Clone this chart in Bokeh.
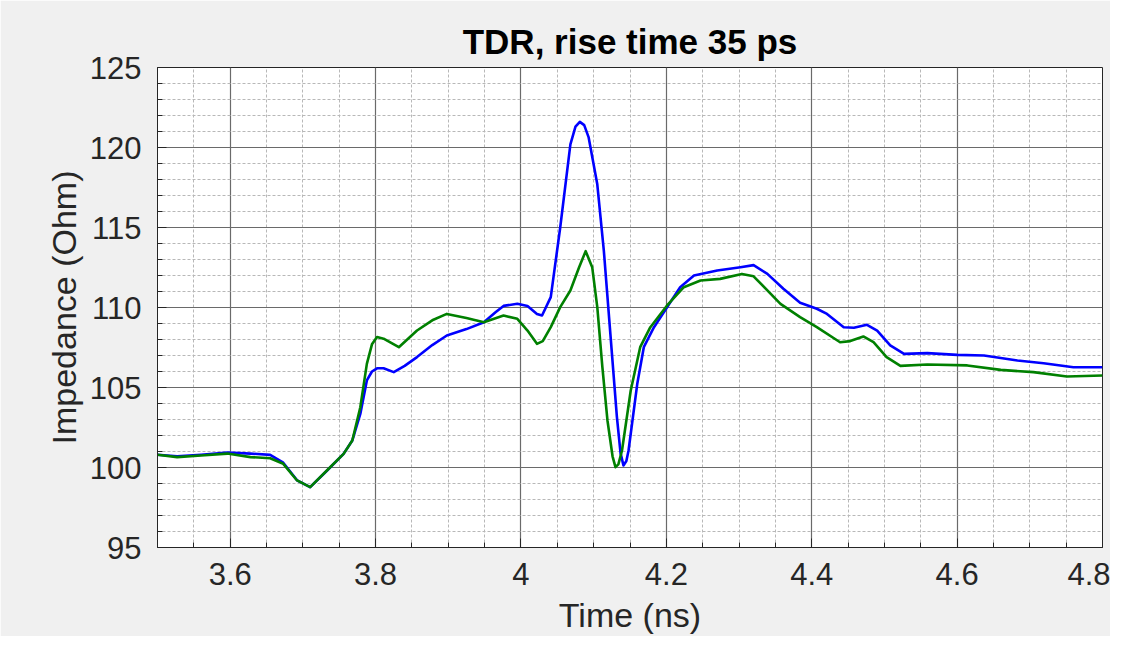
from bokeh.plotting import figure
from bokeh.embed import file_html
from bokeh.resources import INLINE
from bokeh.models import FixedTicker, CustomJSTickFormatter, Range1d

# ---- data ----
t_blue = [3.500, 3.527, 3.560, 3.596, 3.628, 3.655, 3.673, 3.692, 3.710, 3.733,
          3.756, 3.768, 3.779, 3.788, 3.795, 3.802, 3.811, 3.825, 3.840, 3.857, 3.878,
          3.898, 3.925, 3.949, 3.965, 3.976, 3.995, 4.009, 4.022, 4.029, 4.041, 4.054,
          4.068, 4.075, 4.081, 4.087, 4.093, 4.105, 4.114, 4.123, 4.132, 4.137, 4.141,
          4.145, 4.148, 4.160, 4.169, 4.183, 4.201, 4.219, 4.238, 4.270, 4.302, 4.320,
          4.339, 4.361, 4.384, 4.407, 4.421, 4.444, 4.458, 4.476, 4.490, 4.508, 4.527,
          4.559, 4.600, 4.637, 4.683, 4.719, 4.760, 4.800]
z_blue = [100.80, 100.70, 100.80, 100.94, 100.87, 100.79, 100.30, 99.20, 98.77, 99.80,
          100.85, 101.69, 103.35, 105.44, 106.00, 106.20, 106.20, 105.96, 106.35, 106.90, 107.65,
          108.25, 108.65, 109.08, 109.70, 110.10, 110.23, 110.10, 109.60, 109.50, 110.65, 115.00,
          120.20, 121.30, 121.60, 121.40, 120.65, 117.70, 113.56, 108.35, 103.15, 100.90, 100.13,
          100.40, 101.06, 105.23, 107.52, 108.77, 110.02, 111.27, 112.00, 112.31, 112.52, 112.65,
          112.10, 111.17, 110.30, 109.92, 109.60, 108.77, 108.73, 108.92, 108.56, 107.63, 107.10,
          107.15, 107.04, 107.00, 106.69, 106.52, 106.27, 106.27]

t_green = [3.500, 3.527, 3.560, 3.596, 3.628, 3.655, 3.673, 3.692, 3.710, 3.733,
           3.756, 3.768, 3.779, 3.788, 3.795, 3.802, 3.811, 3.832, 3.857, 3.878, 3.898,
           3.925, 3.949, 3.976, 3.995, 4.009, 4.022, 4.030, 4.041, 4.054, 4.068, 4.080,
           4.089, 4.098, 4.105, 4.112, 4.119, 4.126, 4.130, 4.134, 4.139, 4.151, 4.164,
           4.178, 4.201, 4.224, 4.247, 4.274, 4.304, 4.320, 4.357, 4.384, 4.407, 4.439,
           4.453, 4.471, 4.485, 4.503, 4.522, 4.559, 4.614, 4.660, 4.705, 4.751, 4.800]
z_green = [100.80, 100.65, 100.75, 100.87, 100.65, 100.58, 100.23, 99.19, 98.77, 99.81,
           100.85, 101.69, 103.77, 106.48, 107.70, 108.15, 108.05, 107.52, 108.56, 109.20, 109.60,
           109.35, 109.08, 109.50, 109.29, 108.56, 107.73, 107.90, 108.77, 110.02, 111.06, 112.52,
           113.52, 112.52, 110.02, 106.27, 102.94, 100.70, 100.02, 100.20, 101.06, 104.81, 107.52,
           108.77, 110.13, 111.27, 111.69, 111.79, 112.10, 111.95, 110.23, 109.40, 108.77, 107.83,
           107.90, 108.19, 107.83, 106.90, 106.35, 106.44, 106.38, 106.10, 105.96, 105.69, 105.75]

x_major_ticks = [3.6, 3.8, 4.0, 4.2, 4.4, 4.6, 4.8]
x_minor_ticks = [3.55, 3.65, 3.7, 3.75, 3.85, 3.9, 3.95, 4.05, 4.1, 4.15, 4.25, 4.3,
                 4.35, 4.45, 4.5, 4.55, 4.65, 4.7, 4.75]
y_major_ticks = [95, 100, 105, 110, 115, 120, 125]
y_minor_ticks = [96, 97, 98, 99, 101, 102, 103, 104, 106, 107, 108, 109, 111, 112,
                 113, 114, 116, 117, 118, 119, 121, 122, 123, 124]

title_text = "TDR, rise time 35 ps"
x_label = "Time (ns)"
y_label = "Impedance (Ohm)"

FONT = "Liberation Sans"
BG = "#f0f0f0"
AX = "#262626"

p = figure(width=1110, height=636, output_backend="svg", toolbar_location=None,
           x_range=Range1d(3.5, 4.8), y_range=Range1d(95, 125),
           min_border_left=157, min_border_right=8, min_border_top=67,
           min_border_bottom=89, background_fill_color="white",
           border_fill_color=BG, title=title_text)

p.title.text_font = FONT
p.title.text_font_size = "35px"
p.title.text_font_style = "bold"
p.title.text_color = "black"
p.title.align = "center"
p.title.standoff = 13

p.outline_line_color = AX
p.outline_line_width = 1

for ax, maj, mnr in ((p.xaxis[0], x_major_ticks, x_minor_ticks),
                     (p.yaxis[0], y_major_ticks, y_minor_ticks)):
    ax.ticker = FixedTicker(ticks=maj, minor_ticks=mnr)
    ax.axis_line_color = AX
    ax.major_tick_line_color = AX
    ax.minor_tick_line_color = AX
    ax.major_tick_in = 9
    ax.major_tick_out = 0
    ax.minor_tick_in = 5
    ax.minor_tick_out = 0
    ax.major_label_text_font = FONT
    ax.major_label_text_font_size = "31px"
    ax.major_label_text_color = AX
    ax.axis_label_text_font = FONT
    ax.axis_label_text_font_size = "34px"
    ax.axis_label_text_font_style = "normal"
    ax.axis_label_text_color = AX

p.xaxis[0].formatter = CustomJSTickFormatter(code="return String(Number(tick.toFixed(2)));")
p.xaxis.axis_label = x_label
p.yaxis.axis_label = y_label
p.xaxis.major_label_standoff = 15
p.yaxis.major_label_standoff = 16
p.xaxis.axis_label_standoff = 8
p.yaxis.axis_label_standoff = 4

for g, maj, mnr in ((p.xgrid[0], x_major_ticks, x_minor_ticks),
                    (p.ygrid[0], y_major_ticks, y_minor_ticks)):
    g.ticker = FixedTicker(ticks=maj, minor_ticks=mnr)
    g.grid_line_color = "#6a6a6a"
    g.grid_line_width = 1.2
    g.minor_grid_line_color = "#b8b8b8"
    g.minor_grid_line_width = 1
    g.minor_grid_line_dash = "3 2"

p.line(t_blue, z_blue, line_color="#0000ff", line_width=2.6, line_join="round")
p.line(t_green, z_green, line_color="#008000", line_width=2.6, line_join="round")

open("out.html", "w").write(file_html(p, INLINE))
